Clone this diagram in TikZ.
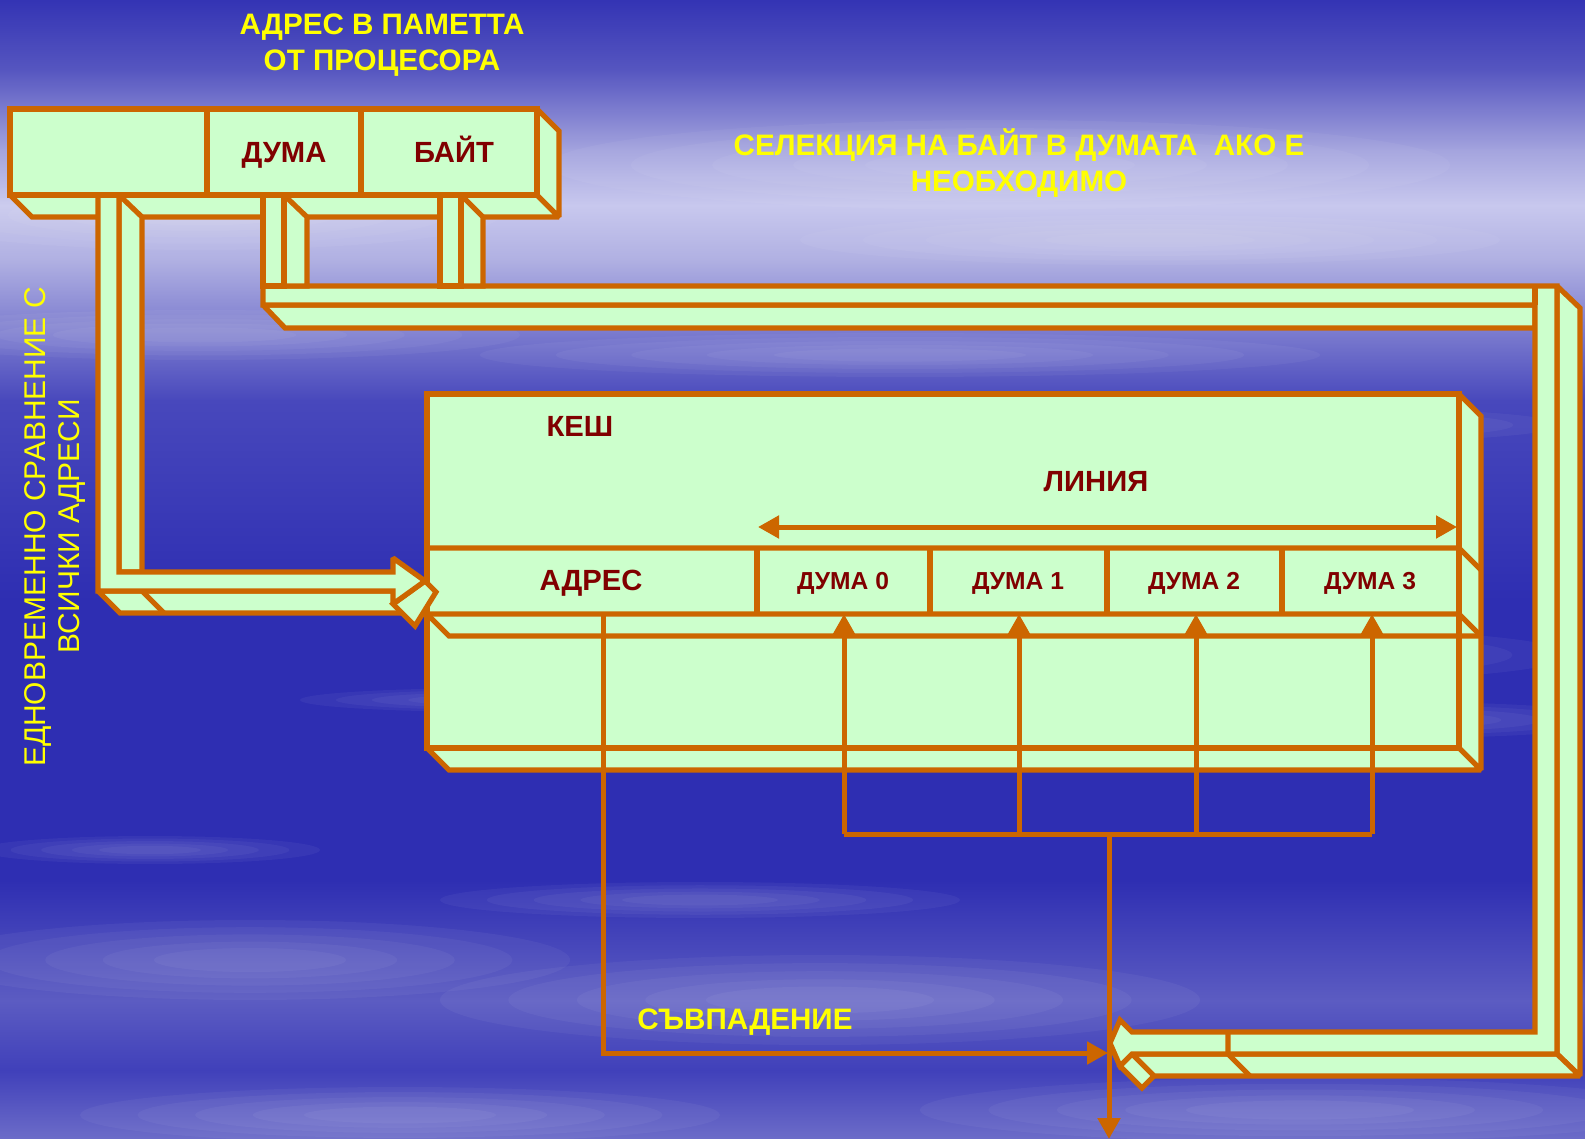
\documentclass[tikz,border=0pt]{standalone}
\usepackage{fontspec}
\setmainfont{Liberation Sans}
\usetikzlibrary{arrows.meta}
\definecolor{edgeor}{HTML}{CC6600}
\definecolor{tubefill}{HTML}{CCFFCC}
\definecolor{lblred}{HTML}{800000}
\definecolor{ylw}{HTML}{FFFF00}
\definecolor{bgA}{HTML}{3434B4}
\definecolor{bgB}{HTML}{5656C0}
\definecolor{bgC}{HTML}{A4A4DE}
\definecolor{bgD}{HTML}{C8C8EE}
\definecolor{bgE}{HTML}{B0B0E2}
\definecolor{bgF}{HTML}{4848BC}
\definecolor{bgG}{HTML}{2E2EB2}
\definecolor{bgH}{HTML}{5C5CC2}
\definecolor{bgI}{HTML}{4040BA}
\definecolor{bgJ}{HTML}{6C6CC8}
\begin{document}
\begin{tikzpicture}[x=0.5pt,y=-0.5pt,
  face/.style={fill=tubefill,draw=edgeor,line width=2.6pt,line join=miter,miter limit=2},
  seam/.style={draw=edgeor,line width=2.6pt,line join=miter,miter limit=2},
  wire/.style={draw=edgeor,line width=2.5pt},
  tipend/.style={-{Triangle[length=10.5pt,width=11pt]}},
  bothends/.style={{Triangle[length=10.5pt,width=11pt]}-{Triangle[length=10.5pt,width=11pt]}},
  redlbl/.style={text=lblred,font=\bfseries\fontsize{14.6pt}{18pt}\selectfont,inner sep=0pt,anchor=base},
  wordlbl/.style={text=lblred,font=\bfseries\fontsize{12.3pt}{15pt}\selectfont,inner sep=0pt,anchor=base},
  ylwlbl/.style={text=ylw,font=\bfseries\fontsize{14.8pt}{17.7pt}\selectfont,inner sep=0pt,align=center},
  ylwside/.style={text=ylw,font=\fontsize{15pt}{18pt}\selectfont,inner sep=0pt,rotate=90},
  cloud/.style={white,opacity=0.045}
]
\useasboundingbox (0,0) rectangle (1585,1139);
% ---------- background ----------
\fill[top color=bgA,bottom color=bgB] (0,0) rectangle (1585,71);
\fill[top color=bgB,bottom color=bgC] (0,70) rectangle (1585,151);
\fill[top color=bgC,bottom color=bgE,middle color=bgD] (0,150) rectangle (1585,261);
\fill[top color=bgE,bottom color=bgF] (0,260) rectangle (1585,401);
\fill[top color=bgF,bottom color=bgG] (0,400) rectangle (1585,601);
\fill[top color=bgG,bottom color=bgG] (0,600) rectangle (1585,881);
\fill[top color=bgG,bottom color=bgH] (0,880) rectangle (1585,1001);
\fill[top color=bgH,bottom color=bgI] (0,1000) rectangle (1585,1071);
\fill[top color=bgI,bottom color=bgJ] (0,1070) rectangle (1585,1139);
\foreach \cx/\cy/\rx/\ry in {200/215/300/35, 1000/165/450/45, 1150/240/350/25,
   200/335/320/25, 900/355/420/22, 1300/425/260/18, 1250/655/320/28, 1400/720/220/18,
   250/960/320/40, 820/1000/380/45, 700/900/260/18, 1300/1110/380/32,
   400/1115/320/28, 150/850/170/14, 500/700/200/12}
  {\foreach \k in {1.0,0.82,0.64,0.46,0.3}
     {\fill[cloud] (\cx,\cy) ellipse [x radius=\k*\rx, y radius=\k*\ry];}}
% ---------- big right tube ----------
\draw[face] (263,305) -- (1535,305) -- (1535,328) -- (285,328) -- cycle;
\draw[face] (1557,286) -- (1580,308) -- (1580,1076) -- (1557,1054) -- cycle;
\draw[face] (1132,1054) -- (1557,1054) -- (1580,1076) -- (1154,1076) -- cycle;
\draw[face] (1110,1043) -- (1120,1066) -- (1142,1088) -- (1132,1065) -- cycle;
\draw[face] (1120,1066) -- (1132,1054) -- (1154,1076) -- (1142,1088) -- cycle;
\draw[face] (263,286) -- (1557,286) -- (1557,1054) -- (1132,1054) -- (1120,1066)
  -- (1110,1043) -- (1120,1020) -- (1132,1032) -- (1535,1032) -- (1535,305) -- (263,305) -- cycle;
\draw[seam] (1535,286) -- (1535,305);
\draw[seam] (1228,1032) -- (1228,1054) -- (1250,1076);
% ---------- register bottom and side ----------
\draw[face] (10,195) -- (537,195) -- (559,217) -- (32,217) -- cycle;
\draw[face] (537,109) -- (559,131) -- (559,217) -- (537,195) -- cycle;
% stems to the bus
\draw[face] (284,195) -- (307,217) -- (307,286) -- (284,286) -- cycle;
\draw[face] (263,195) rectangle (284,286);
\draw[face] (461,195) -- (483,217) -- (483,286) -- (461,286) -- cycle;
\draw[face] (440,195) rectangle (461,286);
% ---------- cache ----------
\draw[face] (1459,394) -- (1481,416) -- (1481,770) -- (1459,748) -- cycle;
\draw[face] (427,748) -- (1459,748) -- (1481,770) -- (449,770) -- cycle;
\draw[face] (427,394) rectangle (1459,748);
\draw[seam] (427,548) -- (1459,548) -- (1481,570);
\draw[seam] (427,614) -- (1459,614) -- (1481,636);
\draw[seam] (427,614) -- (449,636) -- (1481,636);
\foreach \xx in {757,930,1107,1282} {\draw[seam] (\xx,548) -- (\xx,614);}
% ---------- left L tube ----------
\draw[face] (119,195) -- (142,217) -- (142,572) -- (119,572) -- cycle;
\draw[face] (98,591) -- (393,591) -- (415,613) -- (120,613) -- cycle;
\draw[seam] (142,591) -- (164,613);
\draw[face] (393,604) -- (425,581) -- (436,592) -- (415,626) -- cycle;
\draw[face] (98,195) -- (119,195) -- (119,572) -- (393,572) -- (393,558) -- (425,581)
  -- (393,604) -- (393,591) -- (98,591) -- cycle;
% ---------- register front ----------
\draw[face] (10,109) rectangle (537,195);
\draw[seam] (207,109) -- (207,195);
\draw[seam] (361,109) -- (361,195);
% ---------- wires ----------
\coordinate (linL) at (758,527);
\coordinate (linR) at (1457,527);
\draw[wire,bothends] (linL) -- (linR);
\coordinate (adrTop) at (603,614);
\coordinate (adrBot) at (603,1053);
\coordinate (cmpIn) at (1108,1053);
\draw[wire,tipend] (adrTop) -- (adrBot) -- (cmpIn);
\foreach \xx/\nm in {844/a,1019/b,1196/c,1372/d} {
  \coordinate (w\nm top) at (\xx,614);
  \coordinate (w\nm bot) at (\xx,834);
  \draw[wire,tipend] (w\nm bot) -- (w\nm top);
}
\draw[wire] (wabot) -- (wdbot);
\coordinate (outTop) at (1109,834);
\coordinate (outBot) at (1109,1139);
\draw[wire,tipend] (outTop) -- (outBot);
% ---------- labels ----------
\node[ylwlbl] (title) at (382,45) {АДРЕС В ПАМЕТТА\\ОТ ПРОЦЕСОРА};
\node[ylwlbl] (sel) at (1019,163) {СЕЛЕКЦИЯ НА БАЙТ В ДУМАТА~~АКО Е\\НЕОБХОДИМО};
\node[ylwlbl] (match) at (745,1022) {СЪВПАДЕНИЕ};
\node[ylwside] (cmp1) at (38,527) {ЕДНОВРЕМЕННО СРАВНЕНИЕ С};
\node[ylwside] (cmp2) at (72,526) {ВСИЧКИ АДРЕСИ};
\node[redlbl] (rduma) at (284,163) {ДУМА};
\node[redlbl] (rbyte) at (454,163) {БАЙТ};
\node[redlbl] (kesh) at (580,436) {КЕШ};
\node[redlbl] (linia) at (1096,491) {ЛИНИЯ};
\node[redlbl] (adres) at (591,590) {АДРЕС};
\node[wordlbl] (w0) at (843,589) {ДУМА 0};
\node[wordlbl] (w1) at (1018,589) {ДУМА 1};
\node[wordlbl] (w2) at (1194,589) {ДУМА 2};
\node[wordlbl] (w3) at (1370,589) {ДУМА 3};
\end{tikzpicture}
\end{document}
